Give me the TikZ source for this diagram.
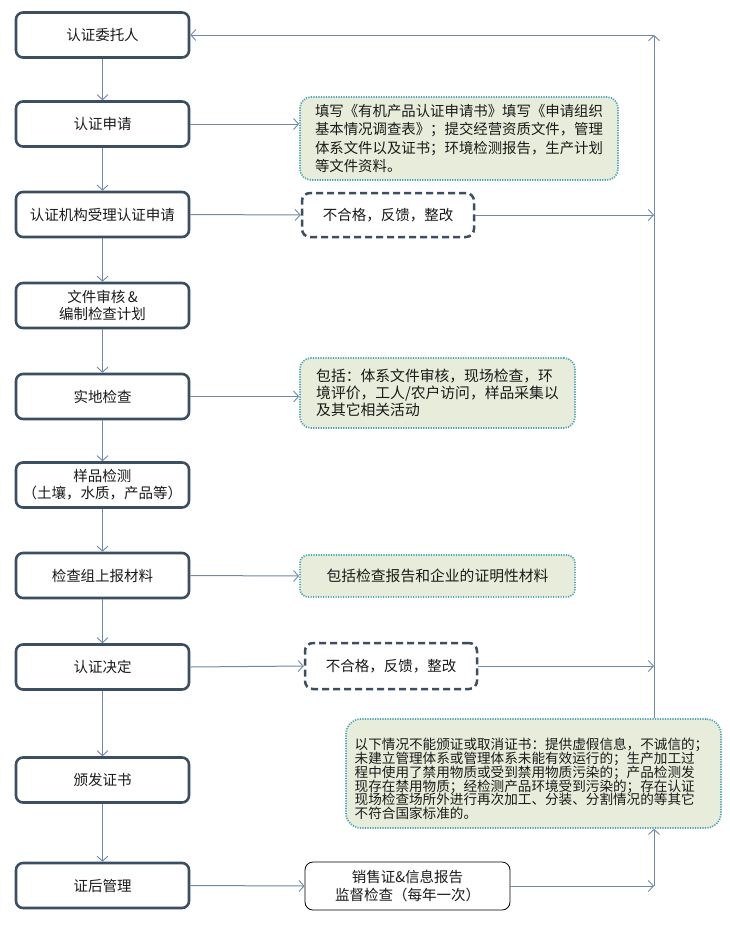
\documentclass[tikz,border=0pt]{standalone}
\usepackage{fontspec}
\setmainfont{Noto Sans CJK SC}
\usetikzlibrary{arrows.meta}
\definecolor{boxline}{HTML}{3B4E62}
\definecolor{conn}{HTML}{6F89A6}
\definecolor{greenfill}{HTML}{E8ECDA}
\definecolor{teal}{HTML}{4AA5B8}
\definecolor{txt}{HTML}{1A1A1A}
\tikzset{
  stepbox/.style={draw=boxline, line width=2.6pt, rounded corners=7pt, fill=white,
    minimum width=173pt, minimum height=45pt, inner sep=0pt, align=center,
    font=\fontsize{14.5}{17}\selectfont, text=txt},
  notebox/.style={draw=teal, fill=greenfill, line width=1.7pt, dash pattern=on 1.2pt off 1.3pt,
    rounded corners=11pt, inner sep=0pt, align=left, font=\fontsize{14.4}{18.2}\selectfont, text=txt},
  failbox/.style={draw=boxline, fill=white, line width=2.5pt, dash pattern=on 7pt off 4pt,
    rounded corners=8pt, inner sep=0pt, align=center, minimum width=172pt,
    font=\fontsize{14.5}{17}\selectfont, text=txt},
  plainbox/.style={draw=black, fill=white, line width=0.8pt, rounded corners=8pt, inner sep=0pt,
    align=center, font=\fontsize{14.5}{18}\selectfont, text=txt},
  arr/.style={draw=conn, line width=1pt, -{Straight Barb[length=5pt,width=11pt,line width=0.9pt]}},
  ln/.style={draw=conn, line width=1pt}
}
\begin{document}
\begin{tikzpicture}[x=1pt,y=-1pt]
\fill[white] (0,0) rectangle (730,927);
\useasboundingbox (0,0) rectangle (730,927);

% left column
\node[stepbox] (n1) at (102.5,35) {认证委托人};
\node[stepbox] (n2) at (102.5,124) {认证申请};
\node[stepbox] (n3) at (102.5,214.5) {认证机构受理认证申请};
\node[stepbox] (n4) at (102.5,305.5) {文件审核\,\&\\编制检查计划};
\node[stepbox] (n5) at (102.5,396.5) {实地检查};
\node[stepbox] (n6) at (102.5,485) {样品检测\\（土壤，水质，产品等）};
\node[stepbox] (n7) at (102.5,575.5) {检查组上报材料};
\node[stepbox] (n8) at (102.5,667) {认证决定};
\node[stepbox] (n9) at (102.5,780) {颁发证书};
\node[stepbox] (n10) at (102.5,885.5) {证后管理};

% right column
\node[notebox, minimum width=318pt, minimum height=83pt] (A) at (459,138.5)
  {填写《有机产品认证申请书》填写《申请组织\\基本情况调查表》；提交经营资质文件，管理\\体系文件以及证书；环境检测报告，生产计划\\等文件资料。};
\node[failbox, minimum height=44pt] (B) at (388,215) {不合格，反馈，整改};
\node[notebox, minimum width=275pt, minimum height=70pt, font=\fontsize{14.8}{17}\selectfont] (C) at (437.5,393)
  {包括：体系文件审核，现场检查，环\\境评价，工人/农户访问，样品采集以\\及其它相关活动};
\node[notebox, minimum width=275pt, minimum height=42pt, align=center, rounded corners=8pt, font=\fontsize{14.8}{17}\selectfont] (D) at (437.5,576)
  {包括检查报告和企业的证明性材料};
\node[failbox, minimum height=46pt] (E) at (391,666) {不合格，反馈，整改};
\node[notebox, minimum width=375pt, minimum height=109pt, rounded corners=15pt] (F) at (533.5,773.5) {};
\node[inner sep=0pt, align=left, text=txt, font=\fontsize{13.6}{13.8}\selectfont] (Ft) at (531.5,779)
  {以下情况不能颁证或取消证书：提供虚假信息，不诚信的；\\未建立管理体系或管理体系未能有效运行的；生产加工过\\程中使用了禁用物质或受到禁用物质污染的；产品检测发\\现存在禁用物质；经检测产品环境受到污染的；存在认证\\现场检查场所外进行再次加工、分装、分割情况的等其它\\不符合国家标准的。};
\node[plainbox, minimum width=205pt, minimum height=48pt] (G) at (407.5,886)
  {销售证\&信息报告\\监督检查（每年一次）};

\coordinate (ctop) at (654,35);
\coordinate (cB) at (654,215);
\coordinate (cE) at (654,666);
\coordinate (cbot) at (654,886);

% vertical chain
\draw[arr] (n1) -- (n2);
\draw[arr] (n2) -- (n3);
\draw[arr] (n3) -- (n4);
\draw[arr] (n4) -- (n5);
\draw[arr] (n5) -- (n6);
\draw[arr] (n6) -- (n7);
\draw[arr] (n7) -- (n8);
\draw[arr] (n8) -- (n9);
\draw[arr] (n9) -- (n10);

% to right boxes
\draw[arr] (n2.east) -- (n2.east -| A.west);
\draw[arr] (n3.east) -- (B.west);
\draw[arr] (n5.east) -- (n5.east -| C.west);
\draw[arr] (n7.east) -- (D.west);
\draw[arr] (n8.east) -- (E.west);
\draw[arr] (n10.east) -- (G.west);

% feedback lines
\draw[arr] (B.east) -- (cB);
\draw[arr] (E.east) -- (cE);
\draw[arr] (ctop |- F.north) -- (ctop);
\draw[arr] (ctop) -- (n1.east);
\draw[arr] (G.east) -- (cbot);
\draw[arr] (cbot) -- (cbot |- F.south);
\end{tikzpicture}
\end{document}
